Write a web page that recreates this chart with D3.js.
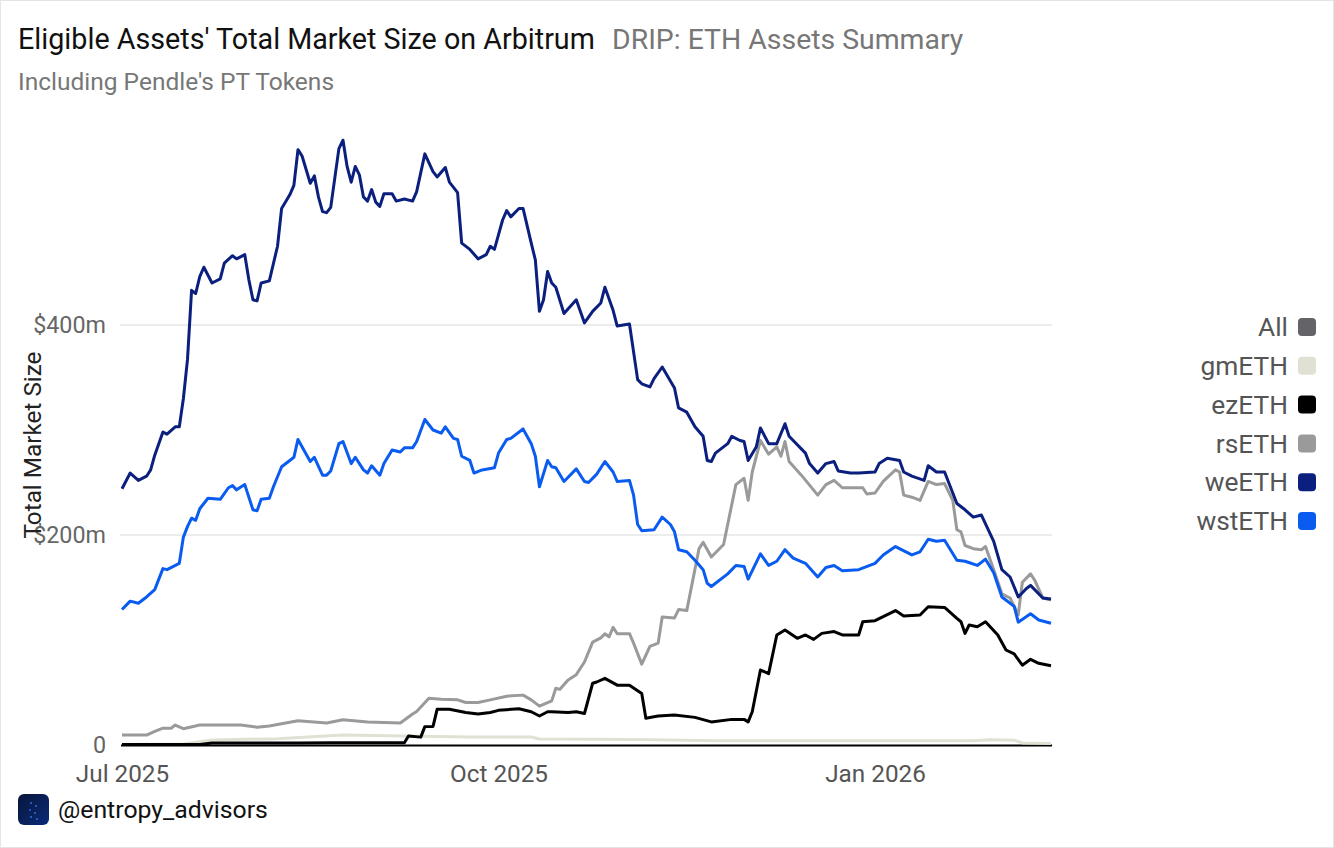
<!DOCTYPE html>
<html>
<head>
<meta charset="utf-8">
<script src="https://cdn.jsdelivr.net/npm/d3@7"></script>
<style>
  body { margin: 0; background: #fff; }
  svg { font-family: Roboto, "Noto Sans", sans-serif; }
</style>
</head>
<body>
<svg id="chart" width="1334" height="848"></svg>
<script>
// values in $m
const weETH = [
  ["2025-07-01",244],["2025-07-03",259],["2025-07-05",252],["2025-07-07",256],["2025-07-08",262],["2025-07-09",276],
  ["2025-07-11",298],["2025-07-12",296],["2025-07-14",303],["2025-07-15",303],["2025-07-16",330],["2025-07-17",367],
  ["2025-07-18",433],["2025-07-19",430],["2025-07-20",446],["2025-07-21",455],["2025-07-23",440],["2025-07-25",444],
  ["2025-07-26",459],["2025-07-28",466],["2025-07-29",463],["2025-07-31",467],["2025-08-01",443],["2025-08-02",424],
  ["2025-08-03",423],["2025-08-04",440],["2025-08-06",442],["2025-08-08",475],["2025-08-09",511],["2025-08-11",524],
  ["2025-08-12",533],["2025-08-13",567],["2025-08-14",561],["2025-08-16",535],["2025-08-17",542],["2025-08-18",522],
  ["2025-08-19",508],["2025-08-20",507],["2025-08-21",512],["2025-08-23",568],["2025-08-24",576],["2025-08-25",551],
  ["2025-08-26",536],["2025-08-27",551],["2025-08-28",543],["2025-08-29",522],["2025-08-30",518],["2025-08-31",529],
  ["2025-09-01",517],["2025-09-02",513],["2025-09-03",525],["2025-09-05",525],["2025-09-06",518],["2025-09-08",520],
  ["2025-09-10",518],["2025-09-11",527],["2025-09-13",563],["2025-09-15",546],["2025-09-16",541],["2025-09-18",550],
  ["2025-09-19",536],["2025-09-21",526],["2025-09-22",478],["2025-09-24",472],["2025-09-26",463],["2025-09-28",467],
  ["2025-09-29",475],["2025-09-30",472],["2025-10-02",500],["2025-10-03",509],["2025-10-04",503],["2025-10-06",511],
  ["2025-10-07",511],["2025-10-09",478],["2025-10-10",462],["2025-10-11",413],["2025-10-12",424],["2025-10-13",451],
  ["2025-10-14",440],["2025-10-15",436],["2025-10-17",411],["2025-10-20",424],["2025-10-22",402],["2025-10-24",413],
  ["2025-10-26",421],["2025-10-27",436],["2025-10-29",414],["2025-10-30",399],["2025-11-02",401],["2025-11-04",348],
  ["2025-11-05",344],["2025-11-07",341],["2025-11-08",349],["2025-11-10",360],["2025-11-13",340],["2025-11-14",321],
  ["2025-11-16",317],["2025-11-18",303],["2025-11-20",294],["2025-11-21",271],["2025-11-22",270],["2025-11-23",278],
  ["2025-11-26",287],["2025-11-27",294],["2025-11-29",290],["2025-11-30",289],["2025-12-01",271],["2025-12-03",284],
  ["2025-12-04",302],["2025-12-06",287],["2025-12-08",287],["2025-12-10",306],["2025-12-11",294],["2025-12-15",278],
  ["2025-12-16",268],["2025-12-18",259],["2025-12-20",268],["2025-12-22",270],["2025-12-23",261],["2025-12-26",259],
  ["2025-12-28",259],["2026-01-01",260],["2026-01-02",268],["2026-01-04",273],["2026-01-07",271],["2026-01-08",260],
  ["2026-01-10",256],["2026-01-13",252],["2026-01-14",266],["2026-01-16",260],["2026-01-18",260],["2026-01-21",230],
  ["2026-01-23",224],["2026-01-25",217],["2026-01-27",219],["2026-01-30",194],["2026-02-01",167],["2026-02-03",160],
  ["2026-02-05",141],["2026-02-07",149],["2026-02-08",152],["2026-02-11",140],["2026-02-13",139]
];

const wstETH = [
  ["2025-07-01",129],["2025-07-03",137],["2025-07-05",135],["2025-07-07",141],["2025-07-09",148],["2025-07-11",168],
  ["2025-07-12",167],["2025-07-15",173],["2025-07-16",198],["2025-07-17",208],["2025-07-18",216],["2025-07-19",214],
  ["2025-07-20",225],["2025-07-22",235],["2025-07-25",234],["2025-07-27",245],["2025-07-28",247],["2025-07-29",243],
  ["2025-07-31",248],["2025-08-02",224],["2025-08-03",223],["2025-08-04",234],["2025-08-06",235],["2025-08-07",246],
  ["2025-08-09",265],["2025-08-11",271],["2025-08-12",274],["2025-08-13",291],["2025-08-16",270],["2025-08-17",274],
  ["2025-08-19",257],["2025-08-20",257],["2025-08-21",261],["2025-08-23",287],["2025-08-24",289],["2025-08-26",268],
  ["2025-08-27",274],["2025-08-29",262],["2025-08-30",259],["2025-08-31",266],["2025-09-02",257],["2025-09-03",268],
  ["2025-09-05",281],["2025-09-07",279],["2025-09-08",283],["2025-09-10",283],["2025-09-11",289],["2025-09-13",310],
  ["2025-09-15",300],["2025-09-17",297],["2025-09-18",303],["2025-09-20",292],["2025-09-21",291],["2025-09-22",275],
  ["2025-09-24",271],["2025-09-25",259],["2025-09-27",262],["2025-09-30",264],["2025-10-01",278],["2025-10-03",291],
  ["2025-10-04",292],["2025-10-07",301],["2025-10-09",287],["2025-10-10",275],["2025-10-11",246],["2025-10-13",271],
  ["2025-10-14",265],["2025-10-15",264],["2025-10-17",251],["2025-10-20",263],["2025-10-22",251],["2025-10-23",250],
  ["2025-10-25",258],["2025-10-27",270],["2025-10-29",260],["2025-10-30",251],["2025-11-02",252],["2025-11-03",238],
  ["2025-11-04",210],["2025-11-05",204],["2025-11-08",205],["2025-11-10",217],["2025-11-12",210],["2025-11-13",203],
  ["2025-11-14",186],["2025-11-16",184],["2025-11-18",176],["2025-11-20",167],["2025-11-21",154],["2025-11-22",151],
  ["2025-11-26",163],["2025-11-28",171],["2025-11-30",170],["2025-12-01",158],["2025-12-04",182],["2025-12-06",171],
  ["2025-12-08",175],["2025-12-10",186],["2025-12-12",178],["2025-12-15",173],["2025-12-18",160],["2025-12-20",169],
  ["2025-12-22",171],["2025-12-24",166],["2025-12-28",167],["2026-01-01",173],["2026-01-03",181],["2026-01-06",189],
  ["2026-01-10",181],["2026-01-12",184],["2026-01-14",196],["2026-01-16",194],["2026-01-18",195],["2026-01-21",176],
  ["2026-01-23",175],["2026-01-26",171],["2026-01-28",177],["2026-01-30",164],["2026-02-01",141],["2026-02-04",132],
  ["2026-02-05",117],["2026-02-08",125],["2026-02-10",119],["2026-02-13",116]
];

const rsETH = [
  ["2025-07-01",9.5],["2025-07-07",9.5],["2025-07-09",13],["2025-07-11",16],["2025-07-13",16],["2025-07-14",19],
  ["2025-07-16",15.5],["2025-07-20",19],["2025-07-30",19],["2025-08-03",17],["2025-08-06",18],["2025-08-13",23],
  ["2025-08-20",21],["2025-08-24",24],["2025-08-30",22],["2025-09-07",21],["2025-09-10",29.5],["2025-09-11",32],
  ["2025-09-14",44.5],["2025-09-17",43.5],["2025-09-21",43],["2025-09-23",40.5],["2025-09-26",40.5],["2025-09-29",43],
  ["2025-10-03",46.5],["2025-10-07",47.5],["2025-10-09",43],["2025-10-11",37],["2025-10-14",42],["2025-10-15",54],
  ["2025-10-16",53],["2025-10-18",62],["2025-10-20",67],["2025-10-22",79],["2025-10-24",98],["2025-10-26",102],
  ["2025-10-27",106],["2025-10-28",103],["2025-10-29",112],["2025-10-30",106],["2025-11-02",106],["2025-11-03",97],
  ["2025-11-04",87],["2025-11-05",77],["2025-11-07",94],["2025-11-09",97],["2025-11-10",122],["2025-11-13",121],
  ["2025-11-14",129],["2025-11-16",128],["2025-11-19",187],["2025-11-20",193],["2025-11-22",179],["2025-11-25",191],
  ["2025-11-28",248],["2025-11-30",254],["2025-12-01",233],["2025-12-02",260],["2025-12-04",290],["2025-12-06",277],
  ["2025-12-08",284],["2025-12-09",275],["2025-12-10",289],["2025-12-11",270],["2025-12-14",257],["2025-12-18",238],
  ["2025-12-20",248],["2025-12-22",252],["2025-12-24",245],["2025-12-29",245],["2025-12-30",239],["2026-01-01",240],
  ["2026-01-03",251],["2026-01-06",262],["2026-01-07",260],["2026-01-08",238],["2026-01-10",236],["2026-01-12",233],
  ["2026-01-14",251],["2026-01-16",248],["2026-01-18",249],["2026-01-20",233],["2026-01-21",205],["2026-01-22",203],
  ["2026-01-23",190],["2026-01-25",187],["2026-01-27",186],["2026-01-28",189],["2026-01-30",167],["2026-02-01",144],
  ["2026-02-03",140],["2026-02-05",124],["2026-02-06",155],["2026-02-08",163],["2026-02-09",157],["2026-02-11",140],
  ["2026-02-13",138]
];

const ezETH = [
  ["2025-07-01",0.5],["2025-07-20",0.5],["2025-07-23",2],["2025-08-13",2],["2025-08-21",2.2],["2025-09-08",2.2],
  ["2025-09-09",8.6],["2025-09-12",7.5],["2025-09-13",17.5],["2025-09-15",17.7],["2025-09-16",34],["2025-09-19",34],
  ["2025-09-23",31],["2025-09-26",29.5],["2025-09-29",31],["2025-10-01",33],["2025-10-06",34.6],["2025-10-09",31.7],
  ["2025-10-11",27.6],["2025-10-13",31.7],["2025-10-14",31.7],["2025-10-18",31],["2025-10-20",31.7],["2025-10-22",30],
  ["2025-10-24",58.8],["2025-10-25",60],["2025-10-27",63.5],["2025-10-30",57],["2025-11-02",57],["2025-11-05",49],
  ["2025-11-06",25.4],["2025-11-09",27.6],["2025-11-13",28.6],["2025-11-18",26.3],["2025-11-22",22],["2025-11-27",24.4],
  ["2025-11-30",24.4],["2025-12-01",22],["2025-12-02",31.7],["2025-12-04",71.4],["2025-12-06",68],["2025-12-08",104.8],
  ["2025-12-10",109.5],["2025-12-13",101.6],["2025-12-15",104.8],["2025-12-17",100.6],["2025-12-19",106.3],["2025-12-22",108],
  ["2025-12-24",104.8],["2025-12-28",104.8],["2025-12-29",117.4],["2026-01-01",118.4],["2026-01-03",122.2],["2026-01-06",128],
  ["2026-01-08",122.9],["2026-01-12",123.8],["2026-01-14",131.7],["2026-01-18",131],["2026-01-21",120.6],["2026-01-22",117.4],
  ["2026-01-23",106.3],["2026-01-24",114.3],["2026-01-26",112.7],["2026-01-28",117.4],["2026-01-31",104.8],["2026-02-02",90.5],
  ["2026-02-04",86.7],["2026-02-06",76],["2026-02-08",81.6],["2026-02-10",77.8],["2026-02-13",75.5]
];

const gmETH = [
  ["2025-07-01",0.5],["2025-07-16",1],["2025-07-23",4.8],["2025-08-08",6],["2025-08-24",9.5],["2025-09-08",8.6],
  ["2025-09-24",7.6],["2025-10-09",7.6],["2025-10-11",5.7],["2025-10-26",5.5],["2025-11-08",5],["2025-11-23",4],
  ["2025-12-28",4],["2026-01-25",4],["2026-01-29",5],["2026-02-04",4.5],["2026-02-06",2],["2026-02-13",1.5]
];

const legendNames = ["All", "gmETH", "ezETH", "rsETH", "weETH", "wstETH"];
const legendColors = ["#646468", "#e0e1d3", "#000000", "#9a9a9a", "#0b1f7e", "#0a5cf0"];
const yTicks = [0, 200, 400];
const xTicks = ["2025-07-01", "2025-10-01", "2026-01-01"];

const svg = d3.select("#chart");
const W = 1334, H = 848;
const parse = d3.timeParse("%Y-%m-%d");

svg.append("rect")
  .attr("x", 0.5).attr("y", 0.5)
  .attr("width", W - 1).attr("height", H - 1)
  .attr("fill", "#fff").attr("stroke", "#e4e4e4");

const x = d3.scaleTime()
  .domain([parse("2025-07-01"), parse("2026-02-13")])
  .range([122, 1051]);
const y = d3.scaleLinear().domain([0, 400]).range([745, 325]);

// titles
svg.append("text").attr("x", 18).attr("y", 49)
  .attr("font-size", 28.7).attr("fill", "#111")
  .text("Eligible Assets' Total Market Size on Arbitrum");
svg.append("text").attr("x", 612).attr("y", 49)
  .attr("font-size", 28.4).attr("fill", "#777")
  .text("DRIP: ETH Assets Summary");
svg.append("text").attr("x", 18).attr("y", 90)
  .attr("font-size", 24.5).attr("fill", "#777")
  .text("Including Pendle's PT Tokens");

// grid
svg.append("g")
  .selectAll("line")
  .data(yTicks.filter(d => d > 0))
  .join("line")
  .attr("x1", 120).attr("x2", 1052)
  .attr("y1", d => y(d)).attr("y2", d => y(d))
  .attr("stroke", "#e6e6e6").attr("stroke-width", 1.5);

// y axis
const yAxis = svg.append("g")
  .attr("transform", "translate(106,0)")
  .call(d3.axisLeft(y).tickValues(yTicks).tickSize(0).tickPadding(0)
    .tickFormat(d => d === 0 ? "0" : `$${d}m`));
yAxis.select(".domain").remove();
yAxis.selectAll("text").attr("font-size", 23.3).attr("fill", "#666")
  .attr("font-family", "Roboto, sans-serif").attr("dy", "0.32em");

svg.append("text")
  .attr("transform", "translate(41,445) rotate(-90)")
  .attr("text-anchor", "middle")
  .attr("font-size", 24.3).attr("fill", "#222")
  .text("Total Market Size");

// x axis
const xAxis = svg.append("g")
  .attr("transform", "translate(0,745)")
  .call(d3.axisBottom(x).tickValues(xTicks.map(parse)).tickSize(0).tickPadding(20)
    .tickFormat(d3.timeFormat("%b %Y")));
xAxis.select(".domain").remove();
xAxis.selectAll("text").attr("font-size", 24.3).attr("fill", "#555")
  .attr("font-family", "Roboto, sans-serif").attr("dy", "0.71em");

// lines
const line = d3.line()
  .x(d => x(parse(d[0])))
  .y(d => y(d[1]));

const series = [
  { data: gmETH, color: legendColors[1] },
  { data: ezETH, color: legendColors[2] },
  { data: rsETH, color: legendColors[3] },
  { data: wstETH, color: legendColors[5] },
  { data: weETH, color: legendColors[4] }
];

svg.append("line")
  .attr("x1", x.range()[0] - 1).attr("x2", x.range()[1] + 1)
  .attr("y1", y(0) + 0.5).attr("y2", y(0) + 0.5)
  .attr("stroke", "#000").attr("stroke-width", 2);

svg.append("g")
  .selectAll("path")
  .data(series)
  .join("path")
  .attr("fill", "none")
  .attr("stroke", d => d.color)
  .attr("stroke-width", 3)
  .attr("stroke-linejoin", "round")
  .attr("d", d => line(d.data));

// legend
const legend = svg.append("g")
  .selectAll("g")
  .data(legendNames)
  .join("g")
  .attr("transform", (d, i) => `translate(0,${327 + i * 38.8})`);
legend.append("text")
  .attr("x", 1288).attr("dy", "0.35em")
  .attr("text-anchor", "end")
  .attr("font-size", 26.3).attr("fill", "#555")
  .text(d => d);
legend.append("rect")
  .attr("x", 1298).attr("y", -9)
  .attr("width", 18).attr("height", 18).attr("rx", 4)
  .attr("fill", (d, i) => legendColors[i]);

// footer
const defs = svg.append("defs");
const grad = defs.append("linearGradient").attr("id", "logo")
  .attr("x1", 0).attr("y1", 0).attr("x2", 1).attr("y2", 1);
grad.append("stop").attr("offset", "0%").attr("stop-color", "#08163a");
grad.append("stop").attr("offset", "100%").attr("stop-color", "#0a2a78");
svg.append("rect").attr("x", 18).attr("y", 794)
  .attr("width", 31).attr("height", 31).attr("rx", 6)
  .attr("fill", "url(#logo)");
svg.append("g").selectAll("circle")
  .data([[31, 803], [36, 806], [30, 810], [35, 813], [31, 817], [37, 819]])
  .join("circle")
  .attr("cx", d => d[0]).attr("cy", d => d[1]).attr("r", 1)
  .attr("fill", "#3a6ad8");
svg.append("text").attr("x", 58).attr("y", 818)
  .attr("font-size", 24.8).attr("fill", "#111")
  .text("@entropy_advisors");
</script>
</body>
</html>
